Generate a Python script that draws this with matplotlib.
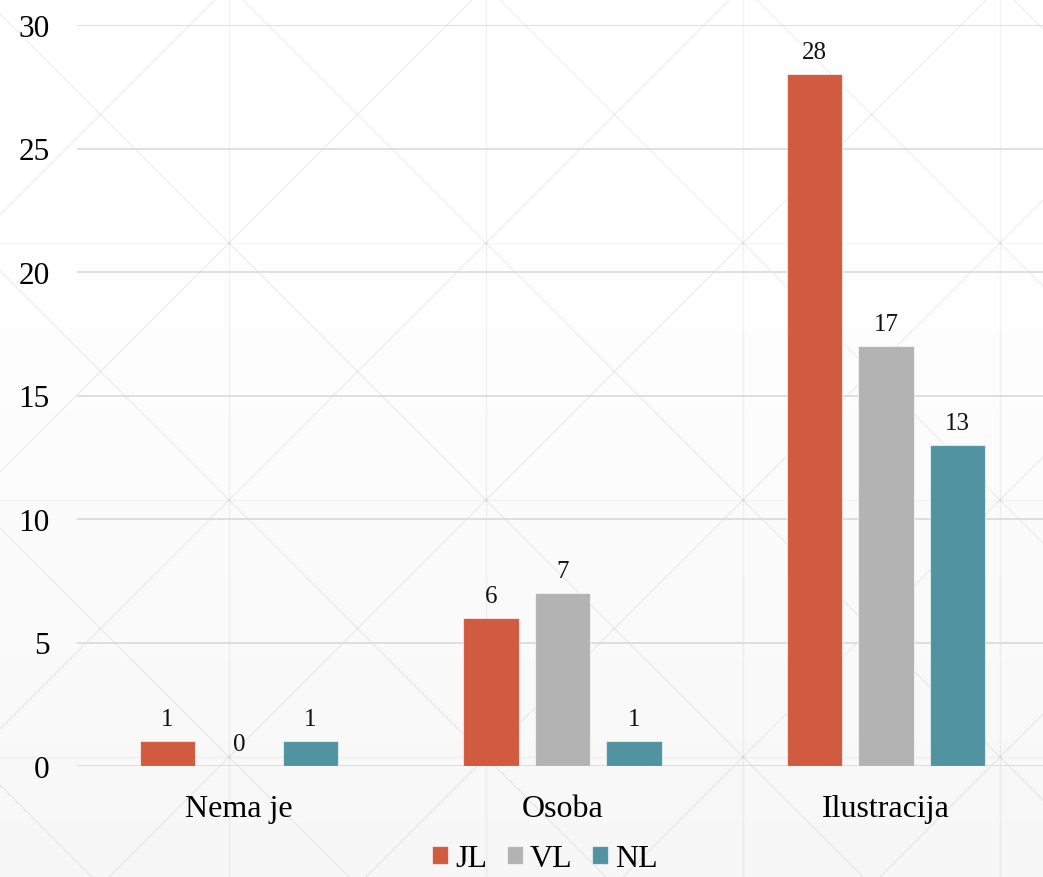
import numpy as np
import matplotlib
matplotlib.use("Agg")
import matplotlib.pyplot as plt

# podaci
categories = ["Nema je", "Osoba", "Ilustracija"]
series_names = ["JL", "VL", "NL"]
jl_values = [1, 6, 28]
vl_values = [0, 7, 17]
nl_values = [1, 1, 13]
colors = ["#D15B40", "#B3B3B3", "#5293A2"]
y_ticks = [0, 5, 10, 15, 20, 25, 30]

plt.rcParams['font.family'] = ['Liberation Serif', 'DejaVu Serif']

W, H = 1043, 878
fig = plt.figure(figsize=(W / 100, H / 100), dpi=100)
fig.patch.set_facecolor("white")

# pozadina: gradijent + uzorak s dijagonalama
bg = fig.add_axes([0, 0, 1, 1], zorder=-10)
bg.set_xlim(0, W)
bg.set_ylim(H, 0)
bg.axis("off")
rows = np.linspace(0, H, 200)
shade = np.clip((rows - 250) / (H - 250), 0, 1)
grad = 1.0 - 0.03 * shade
bg.imshow(np.tile(grad[:, None], (1, 2))[:, :, None].repeat(3, axis=2),
          extent=[0, W, H, 0], aspect="auto", interpolation="bilinear",
          vmin=0, vmax=1)
step = 257
x0, y0 = 229, -13
for k in range(-3, 6):
    bg.axvline(x0 + k * step, color=(0, 0, 0, 0.05), lw=1, zorder=1)
    bg.axhline(y0 + k * step, color=(0, 0, 0, 0.035), lw=1, zorder=1)
for k in range(-8, 10):
    c1 = (x0 - y0) + k * step
    c2 = (x0 + y0) + k * step
    xs = np.array([-100, W + 100])
    bg.plot(xs, xs - c1, color=(0, 0, 0, 0.065), lw=0.9, zorder=1)
    bg.plot(xs, c2 - xs, color=(0, 0, 0, 0.065), lw=0.9, zorder=1)

# os malo prelazi desni rub slike
ax = fig.add_axes([77.25 / W, 1 - 767 / H, 970.5 / W, (767 - 26) / H])
ax.set_facecolor("none")

x = np.arange(len(categories))
width = 0.173
offset = 0.221
all_values = [jl_values, vl_values, nl_values]
for i, (name, vals, col) in enumerate(zip(series_names, all_values, colors)):
    pos = x + (i - 1) * offset
    bars = ax.bar(pos, vals, width, color=col, label=name,
                  edgecolor=(1, 1, 1, 0.6), linewidth=0.8, zorder=3)
    for b, v in zip(bars, vals):
        ax.annotate(str(v), (b.get_x() + b.get_width() / 2, v),
                    xytext=(0, 8), textcoords="offset points",
                    ha="center", va="bottom", fontsize=18, color="#111111")

ax.set_xlim(-0.5, 2.5)
ax.set_ylim(0, 30)
ax.set_yticks(y_ticks)
ax.set_xticks(x)
ax.set_xticklabels(categories)
ax.tick_params(axis="y", length=0, pad=20, labelsize=22.5)
ax.tick_params(axis="x", length=0, pad=20, labelsize=23)
ax.yaxis.grid(True, color="#d9d9d9", lw=1.2, zorder=0)
for s in ax.spines.values():
    s.set_visible(False)

fig.legend(loc="center", bbox_to_anchor=(545 / W, 1 - 860 / H), ncol=3,
           frameon=False, fontsize=23, handlelength=0.5, handleheight=0.5,
           handletextpad=0.22, columnspacing=0.62, borderpad=0)

fig.savefig("out.png", dpi=100)
